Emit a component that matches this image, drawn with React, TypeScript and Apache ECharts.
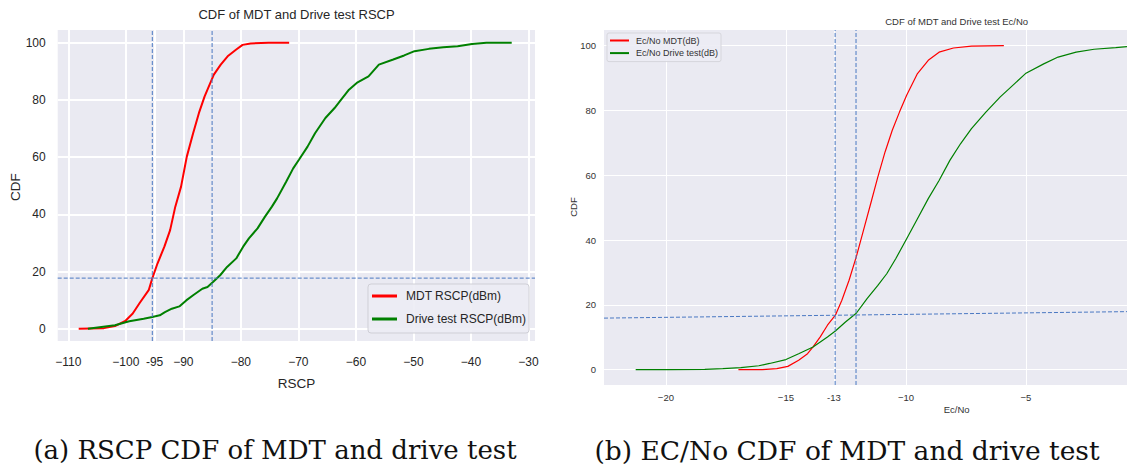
import React, { useEffect, useRef } from "react";
import * as echarts from "echarts";

// ---------- data ----------
const rscpTicks = [-110, -100, -95, -90, -80, -70, -60, -50, -40, -30];
const ecnoTicks = [-20, -15, -13, -10, -5];
const cdfTicks = [0, 20, 40, 60, 80, 100];

const mdtRscp: [number, number][] = [
  [-108.2, 0], [-103.8, 0.2], [-101.9, 0.9], [-100.1, 2.7], [-98.8, 5.3], [-97.6, 9],
  [-96, 13.6], [-95.4, 17.6], [-94.5, 22.8], [-93.3, 28.7], [-92.3, 34.5], [-91.4, 42.7],
  [-90.4, 49.7], [-89.4, 60.2], [-88.3, 68.4], [-87.3, 75.4], [-86.3, 81.3], [-84.7, 88.9],
  [-83.5, 92.4], [-82.3, 95.3], [-80.8, 97.7], [-79.7, 99.3], [-78.3, 99.8], [-75.2, 100],
  [-71.6, 100],
];
const driveRscp: [number, number][] = [
  [-106.6, 0], [-101.9, 1.2], [-99.4, 2.6], [-96.9, 3.5], [-95.4, 4.1], [-94.1, 4.7],
  [-93.2, 5.8], [-92, 7], [-90.7, 7.8], [-89.5, 9.9], [-88.3, 11.7], [-86.7, 14],
  [-85.8, 14.6], [-84.8, 16.4], [-83.6, 18.7], [-82.4, 21.6], [-80.8, 24.6], [-79.6, 28.7],
  [-78.6, 31.6], [-77.1, 35.1], [-75.8, 39.2], [-74.6, 42.7], [-73.7, 45.6], [-72.1, 51.5],
  [-70.9, 56.1], [-69.9, 59.1], [-68.4, 63.7], [-67.1, 68.4], [-65.3, 73.7], [-63.7, 77.2],
  [-62.8, 79.5], [-61.2, 83.6], [-59.7, 86.2], [-57.8, 88.3], [-56, 92.4], [-53.5, 94.2],
  [-51.6, 95.6], [-49.8, 97.1], [-47.3, 97.9], [-44.8, 98.5], [-42.3, 98.8], [-39.8, 99.6],
  [-37.3, 100], [-32.9, 100],
];
const mdtEcno: [number, number][] = [
  [-16.98, 0], [-15.98, 0], [-15.38, 0.3], [-14.92, 1], [-14.47, 2.9], [-14.1, 4.9],
  [-13.87, 7], [-13.57, 10.1], [-13.27, 13.7], [-12.94, 16.8], [-12.67, 21.4], [-12.37, 27.6],
  [-12.07, 34.8], [-11.77, 43], [-11.47, 51.2], [-11.17, 59.5], [-10.87, 67.2], [-10.57, 73.9],
  [-10.27, 79.5], [-9.97, 84.7], [-9.52, 91.4], [-9.07, 95.5], [-8.62, 98], [-8.02, 99.3],
  [-7.27, 99.9], [-5.92, 100],
];
const driveEcno: [number, number][] = [
  [-21.26, 0], [-19.88, 0], [-18.38, 0.1], [-17.63, 0.3], [-16.88, 0.6], [-16.13, 1.2],
  [-15.68, 1.9], [-15, 3.1], [-14.47, 4.9], [-13.87, 7], [-13.27, 10.1], [-12.94, 11.9],
  [-12.52, 14.7], [-12.07, 17.4], [-11.62, 21.9], [-11.17, 26], [-10.8, 29.6], [-10.42, 34.3],
  [-9.97, 40.4], [-9.52, 46.6], [-9.07, 52.8], [-8.62, 58.4], [-8.17, 64.6], [-7.72, 69.8],
  [-7.27, 74.4], [-6.67, 79.5], [-6.07, 84.2], [-5.47, 88.3], [-5.02, 91.4], [-4.26, 94.4],
  [-3.66, 96.5], [-2.91, 98], [-2.16, 98.9], [-1.26, 99.4], [-0.79, 99.7],
];

const rscpRefX = [-95.4, -85];
const rscpRefY = 17.7;
const ecnoRefX = [-12.95, -12.08];
const ecnoRefLine: [number, number][] = [[-22.58, 15.9], [-0.79, 17.9]];

const rscpRange = [-111.85, -28.85];
const ecnoRange = [-22.58, -0.79];
const cdfRangeL = [-4.3, 104.5];
const cdfRangeR = [-4.75, 104.85];

// ---------- styling ----------
const SANS = "'Liberation Sans', Arial, sans-serif";
const SERIF = "'DejaVu Serif', serif";
const BG = "#EAEAF2";
const REF = "#4a78c2";

const fmt = (special: number) => (v: number) =>
  v === special ? String(v) : v < 0 ? "\u2212" + Math.abs(v) : String(v);

export default function App() {
  const ref = useRef<HTMLDivElement>(null);
  useEffect(() => {
    if (!ref.current) return;
    const chart = echarts.init(ref.current, undefined, { renderer: "svg" });

    const refSeries = (data: [number, number][], xi: number) => ({
      type: "line",
      xAxisIndex: xi,
      yAxisIndex: xi,
      data,
      showSymbol: false,
      symbol: "none",
      silent: true,
      color: REF,
      itemStyle: { color: REF },
      lineStyle: { color: REF, width: 1, type: [4, 2] },
      z: 4,
    });

    const option: any = {
      animation: false,
      grid: [
        { left: 57.7, top: 30, width: 477.3, height: 311, backgroundColor: BG, show: true, borderWidth: 0 },
        { left: 604, top: 30, right: 0, height: 355, backgroundColor: BG, show: true, borderWidth: 0 },
      ],
      xAxis: [
        {
          type: "value", gridIndex: 0, min: rscpRange[0], max: rscpRange[1],
          axisLine: { show: false, onZero: false }, axisTick: { show: false, customValues: rscpTicks },
          axisLabel: { customValues: rscpTicks, formatter: fmt(-95), margin: 15, fontSize: 12, color: "#262626", fontFamily: SANS },
          splitLine: { show: true, lineStyle: { color: "#ffffff", width: 2 } },
        },
        {
          type: "value", gridIndex: 1, min: ecnoRange[0], max: ecnoRange[1],
          axisLine: { show: false, onZero: false }, axisTick: { show: false, customValues: ecnoTicks },
          axisLabel: { customValues: ecnoTicks, formatter: fmt(-13), margin: 7, fontSize: 9.5, color: "#333", fontFamily: SANS },
          splitLine: { show: true, lineStyle: { color: "#ffffff", width: 1 } },
        },
      ],
      yAxis: [
        {
          type: "value", gridIndex: 0, min: cdfRangeL[0], max: cdfRangeL[1],
          axisLine: { show: false, onZero: false }, axisTick: { show: false, customValues: cdfTicks },
          axisLabel: { customValues: cdfTicks, margin: 12, fontSize: 12, color: "#262626", fontFamily: SANS },
          splitLine: { show: true, lineStyle: { color: "#ffffff", width: 2 } },
        },
        {
          type: "value", gridIndex: 1, min: cdfRangeR[0], max: cdfRangeR[1],
          axisLine: { show: false, onZero: false }, axisTick: { show: false, customValues: cdfTicks },
          axisLabel: { customValues: cdfTicks, margin: 8, fontSize: 9.5, color: "#333", fontFamily: SANS },
          splitLine: { show: true, lineStyle: { color: "#ffffff", width: 1 } },
        },
      ],
      legend: [
        {
          orient: "vertical", left: 368, top: 284, selectedMode: false,
          data: ["MDT RSCP(dBm)", "Drive test RSCP(dBm)"],
          icon: "rect", itemWidth: 25, itemHeight: 3, itemGap: 7,
          padding: [4, 3, 6, 4],
          backgroundColor: "rgba(236,236,244,0.9)", borderColor: "#cfcfd6", borderWidth: 1, borderRadius: 3,
          textStyle: { fontSize: 12, color: "#262626", fontFamily: SANS, lineHeight: 16, padding: [0, 0, 0, 4] },
        },
        {
          orient: "vertical", left: 607, top: 33, selectedMode: false,
          data: ["Ec/No MDT(dB)", "Ec/No Drive test(dB)"],
          icon: "rect", itemWidth: 19, itemHeight: 2, itemGap: 1.6,
          padding: [2, 3, 3, 3],
          backgroundColor: "rgba(236,236,244,0.9)", borderColor: "#d6d6dc", borderWidth: 1, borderRadius: 2,
          textStyle: { fontSize: 9, color: "#333", fontFamily: SANS, lineHeight: 11, padding: [0, 0, 0, 2] },
        },
      ],
      series: [
        {
          type: "line", name: "MDT RSCP(dBm)", xAxisIndex: 0, yAxisIndex: 0, data: mdtRscp,
          showSymbol: false, symbol: "none", lineStyle: { color: "#ff0000", width: 2 }, itemStyle: { color: "#ff0000" }, z: 3,
        },
        {
          type: "line", name: "Drive test RSCP(dBm)", xAxisIndex: 0, yAxisIndex: 0, data: driveRscp,
          showSymbol: false, symbol: "none", lineStyle: { color: "#008000", width: 2 }, itemStyle: { color: "#008000" }, z: 3,
        },
        {
          type: "line", name: "Ec/No MDT(dB)", xAxisIndex: 1, yAxisIndex: 1, data: mdtEcno,
          showSymbol: false, symbol: "none", lineStyle: { color: "#ff0000", width: 1.2 }, itemStyle: { color: "#ff0000" }, z: 3,
        },
        {
          type: "line", name: "Ec/No Drive test(dB)", xAxisIndex: 1, yAxisIndex: 1, data: driveEcno,
          showSymbol: false, symbol: "none", lineStyle: { color: "#008000", width: 1.2 }, itemStyle: { color: "#008000" }, z: 3,
        },
        ...rscpRefX.map((x) => refSeries([[x, cdfRangeL[0]], [x, cdfRangeL[1]]], 0)),
        refSeries([[rscpRange[0], rscpRefY], [rscpRange[1], rscpRefY]], 0),
        ...ecnoRefX.map((x) => refSeries([[x, cdfRangeR[0]], [x, cdfRangeR[1]]], 1)),
        refSeries(ecnoRefLine, 1),
      ],
      graphic: [
        { type: "text", x: 296.5, y: 14, style: { text: "CDF of MDT and Drive test RSCP", font: `13px ${SANS}`, fill: "#262626", align: "center", verticalAlign: "middle" } },
        { type: "text", x: 296.5, y: 383, style: { text: "RSCP", font: `13.5px ${SANS}`, fill: "#262626", align: "center", verticalAlign: "middle" } },
        { type: "text", x: 15, y: 187, rotation: Math.PI / 2, style: { text: "CDF", font: `13.5px ${SANS}`, fill: "#262626", align: "center", verticalAlign: "middle" } },
        { type: "text", x: 956.7, y: 21, style: { text: "CDF of MDT and Drive test Ec/No", font: `9.5px ${SANS}`, fill: "#333", align: "center", verticalAlign: "middle" } },
        { type: "text", x: 956.7, y: 409.5, style: { text: "Ec/No", font: `9.5px ${SANS}`, fill: "#333", align: "center", verticalAlign: "middle" } },
        { type: "text", x: 573, y: 207, rotation: Math.PI / 2, style: { text: "CDF", font: `9.5px ${SANS}`, fill: "#333", align: "center", verticalAlign: "middle" } },
        { type: "text", x: 275, y: 450, style: { text: "(a) RSCP CDF of MDT and drive test", font: `26px ${SERIF}`, fill: "#111", align: "center", verticalAlign: "middle" } },
        { type: "text", x: 847, y: 450, style: { text: "(b) EC/No CDF of MDT and drive test", font: `26.5px ${SERIF}`, fill: "#111", align: "center", verticalAlign: "middle" } },
      ],
    };
    chart.setOption(option);
    return () => chart.dispose();
  }, []);

  return (
    <div
      ref={ref}
      style={{ position: "fixed", left: 0, top: 0, width: 1127, height: 468, background: "#fff" }}
    />
  );
}
